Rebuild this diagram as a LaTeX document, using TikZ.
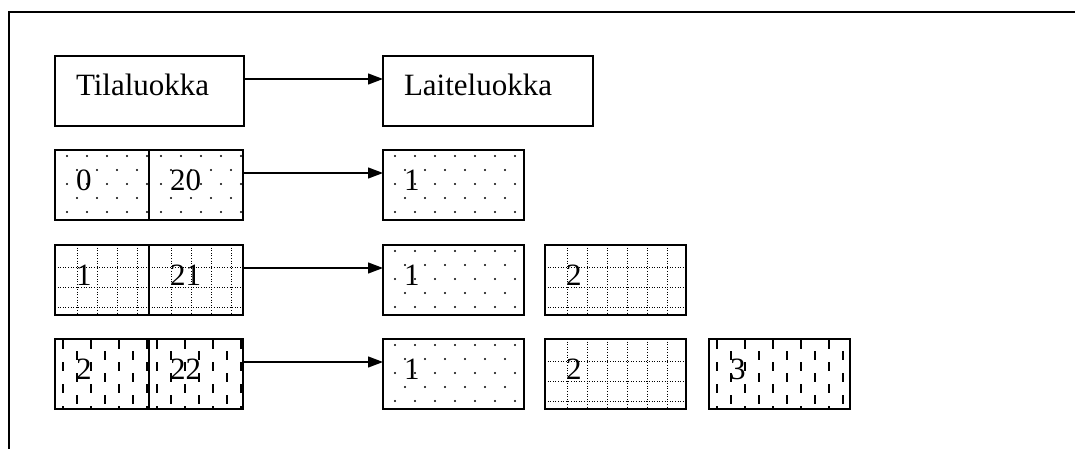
\documentclass[tikz,border=0pt]{standalone}
\usepackage{fontspec}
\setmainfont{Liberation Serif}
\usetikzlibrary{arrows.meta,calc}

\tikzset{
  box/.style={draw, line width=1.4pt, rectangle, outer sep=0pt,
    inner xsep=21pt, inner ysep=0pt, minimum height=70pt,
    text height=21pt, text depth=11pt, align=left, anchor=north west,
    text width=#1, font=\fontsize{31}{36}\selectfont},
  % staggered dot fill
  dots/.style={path picture={
    \coordinate (pp) at (path picture bounding box.north west);
    \foreach \r in {0,...,4} {
      \pgfmathsetmacro\off{mod(\r,2)*10}
      \foreach \c in {0,...,8}
        \fill ($(pp)+({12+\off+20*\c},{6+14*\r})$) circle (1.1pt);
    }}},
  % dotted grid fill
  grid/.style={path picture={
    \coordinate (pp) at (path picture bounding box.north west);
    \begin{scope}[line width=1pt, dash pattern=on 1pt off 1.6pt]
      \foreach \k in {1,...,3}
        \draw ($(pp)+(0,{20*\k+2})$) -- ++(220,0);
      \foreach \k in {1,...,10}
        \draw ($(pp)+({20*\k+2},0)$) -- ++(0,70);
    \end{scope}}},
  % short vertical dash fill
  vdash/.style={path picture={
    \coordinate (pp) at (path picture bounding box.north west);
    \begin{scope}[line width=1.3pt]
      \foreach \c in {0,...,10} {
        \pgfmathsetmacro\off{mod(\c,2)*11}
        \foreach \r in {0,...,3}
          \draw ($(pp)+({8+14*\c},{1+\off+22*\r})$) -- ++(0,9);
      }
    \end{scope}}},
  arr/.style={line width=1.3pt, -{Triangle[length=15pt,width=11pt]}},
}

\begin{document}
\begin{tikzpicture}[x=1pt, y=-1pt]
  \useasboundingbox (0,0) rectangle (1075,449);

  % open frame: top and left edges
  \draw[line width=1.4pt] (9,449) -- (9,12) -- (1075,12);

  % headers
  \node[box=147pt] (tila) at (55,56) {Tilaluokka};
  \node[box=168pt] (laite) at (383,56) {Laiteluokka};
  \draw[arr] ([yshift=-23pt]tila.north east) -- ([yshift=-23pt]laite.north west);

  % row 0
  \node[box=52pt, dots] (a0) at (55,150) {0};
  \node[box=52pt, dots] (b0) at (149,150) {20};
  \node[box=99pt, dots] (c01) at (383,150) {1};
  \draw[arr] ([yshift=-23pt]b0.north east) -- ([yshift=-23pt]c01.north west);

  % row 1
  \node[box=52pt, grid] (a1) at (55,245) {1};
  \node[box=52pt, grid] (b1) at (149,245) {21};
  \node[box=99pt, dots] (c11) at (383,245) {1};
  \node[box=99pt, grid] (c12) at (545,245) {2};
  \draw[arr] ([yshift=-23pt]b1.north east) -- ([yshift=-23pt]c11.north west);

  % row 2
  \node[box=52pt, vdash] (a2) at (55,339) {2};
  \node[box=52pt, vdash] (b2) at (149,339) {22};
  \node[box=99pt, dots] (c21) at (383,339) {1};
  \node[box=99pt, grid] (c22) at (545,339) {2};
  \node[box=99pt, vdash] (c23) at (709,339) {3};
  \draw[arr] ([yshift=-23pt]b2.north east) -- ([yshift=-23pt]c21.north west);
\end{tikzpicture}
\end{document}
